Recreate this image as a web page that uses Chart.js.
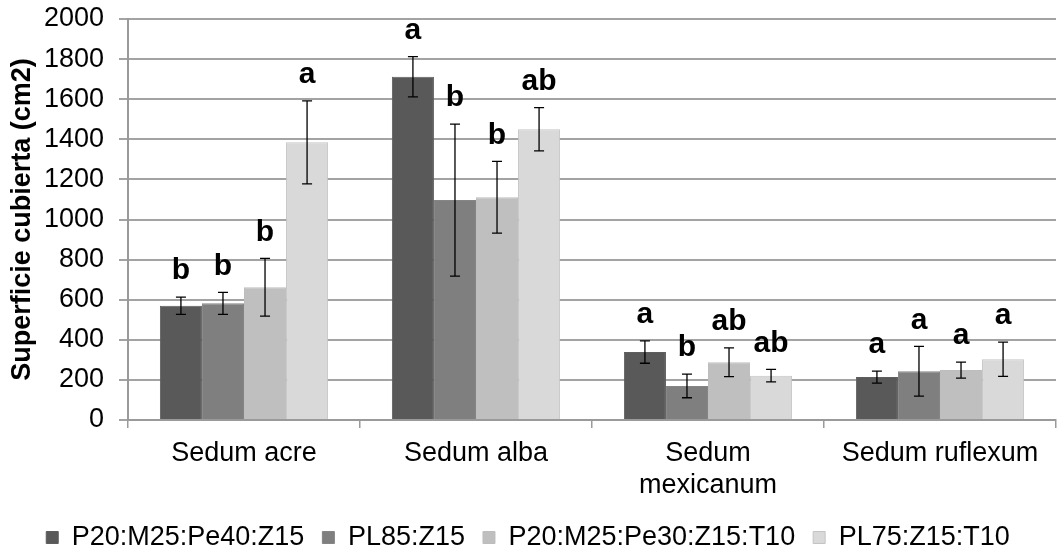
<!DOCTYPE html>
<html>
<head>
<meta charset="utf-8">
<script src="https://cdn.jsdelivr.net/npm/chart.js@4/dist/chart.umd.min.js"></script>
<style>
  html, body { margin: 0; padding: 0; background: #fff; }
  #wrap { width: 1057px; height: 551px; }
</style>
</head>
<body>
<div id="wrap"><canvas id="c" width="1057" height="551"></canvas></div>
<script>
// ---- data ----
const categories = ['Sedum acre', 'Sedum alba', ['Sedum', 'mexicanum'], 'Sedum ruflexum'];
const seriesNames = ['P20:M25:Pe40:Z15', 'PL85:Z15', 'P20:M25:Pe30:Z15:T10', 'PL75:Z15:T10'];

const meanA = [570, 1712, 339, 214];
const meanB = [582, 1097, 170, 243];
const meanC = [662, 1111, 288, 249];
const meanD = [1385, 1450, 221, 303];

const errA = [43, 100, 56, 30];
const errB = [55, 379, 59, 124];
const errC = [144, 179, 72, 40];
const errD = [207, 108, 31, 85];

const letA = ['b', 'a', 'a', 'a'];
const letB = ['b', 'b', 'b', 'a'];
const letC = ['b', 'b', 'ab', 'a'];
const letD = ['a', 'ab', 'ab', 'a'];

const yTicks = [0, 200, 400, 600, 800, 1000, 1200, 1400, 1600, 1800, 2000];

// ---- styles ----
const FONT = '"Liberation Sans", Arial, Helvetica, sans-serif';
const fills = ['#595959', '#7f7f7f', '#bfbfbf', '#d9d9d9'];
const borders = ['#5e5e5e', '#858585', '#bdbdbd', '#c4c4c4'];
const means = [meanA, meanB, meanC, meanD];
const errs = [errA, errB, errC, errD];
const lets = [letA, letB, letC, letD];

const errorPlugin = {
  id: 'errorBars',
  afterDatasetsDraw(chart) {
    const ctx = chart.ctx;
    const y = chart.scales.y;
    ctx.save();
    chart.data.datasets.forEach((ds, di) => {
      const meta = chart.getDatasetMeta(di);
      meta.data.forEach((bar, i) => {
        const v = ds.data[i];
        const e = errs[di][i];
        const top = y.getPixelForValue(v + e);
        const bot = y.getPixelForValue(v - e);
        const x = bar.x;
        ctx.strokeStyle = '#000';
        ctx.lineWidth = 1.3;
        ctx.beginPath();
        ctx.moveTo(x, top); ctx.lineTo(x, bot);
        ctx.moveTo(x - 5, top); ctx.lineTo(x + 5, top);
        ctx.moveTo(x - 5, bot); ctx.lineTo(x + 5, bot);
        ctx.stroke();
        ctx.fillStyle = '#000';
        ctx.font = 'bold 30px ' + FONT;
        ctx.textAlign = 'center';
        ctx.textBaseline = 'middle';
        ctx.fillText(lets[di][i], x, top - 26);
      });
    });
    ctx.restore();
  }
};

new Chart(document.getElementById('c'), {
  type: 'bar',
  data: {
    labels: categories,
    datasets: seriesNames.map((name, k) => ({
      label: name,
      data: means[k],
      backgroundColor: fills[k],
      borderColor: borders[k],
      borderWidth: 1,
      categoryPercentage: 0.725,
      barPercentage: 1.0
    }))
  },
  options: {
    responsive: false,
    animation: false,
    devicePixelRatio: 1,
    layout: { padding: { top: 19, right: 1, left: 0, bottom: -10 } },
    plugins: {
      legend: {
        position: 'bottom',
        labels: {
          font: { family: FONT, size: 27 },
          color: '#000',
          boxWidth: 12,
          boxHeight: 12,
          padding: 18
        }
      },
      tooltip: { enabled: false }
    },
    scales: {
      x: {
        offset: true,
        grid: { display: true, drawOnChartArea: false, drawTicks: true, tickLength: 8, color: '#9a9a9a', offset: true, lineWidth: 1.5 },
        border: { display: true, color: '#9a9a9a', width: 2 },
        ticks: { font: { family: FONT, size: 27 }, color: '#000', padding: 9, maxRotation: 0, autoSkip: false },
        afterFit(scale) { scale.height = 141 - scale.chart.legend.height; }
      },
      y: {
        min: 0, max: 2000,
        afterBuildTicks(scale) { scale.ticks = yTicks.map(v => ({ value: v })); },
        grid: { color: '#a3a3a3', lineWidth: 2, tickLength: 9, drawTicks: true },
        border: { display: true, color: '#9a9a9a', width: 2 },
        ticks: {
          font: { family: FONT, size: 27 }, color: '#000', padding: 15,
          callback: (v) => String(v)
        },
        title: {
          display: true,
          text: 'Superficie cubierta (cm2)',
          font: { family: FONT, size: 27, weight: 'bold' },
          color: '#000',
          padding: { top: 6, bottom: 0 }
        },
        afterFit(scale) { scale.width = 128; scale.paddingTop = 0; scale.paddingBottom = 0; }
      }
    }
  },
  plugins: [errorPlugin]
});
</script>
</body>
</html>
